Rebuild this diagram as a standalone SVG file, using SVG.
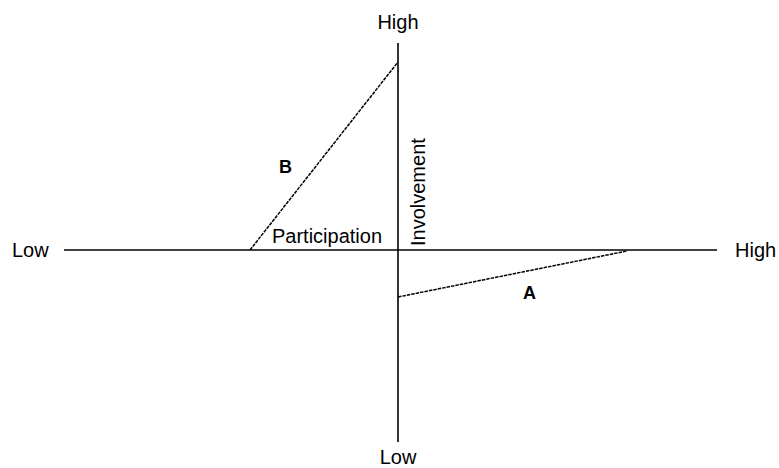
<svg xmlns="http://www.w3.org/2000/svg" width="779" height="468" viewBox="0 0 779 468">
<style>
.ax{stroke:#000;stroke-width:1.6;fill:none}
.ds{stroke:#000;stroke-width:1.5;fill:none;stroke-dasharray:3.5 1}
text{font-family:"Liberation Sans",Arial,sans-serif;font-size:20px;fill:#000}
.b{font-weight:bold;font-size:18px}
</style>
<rect width="779" height="468" fill="#fff"/>
<g id="connectors">
<line class="ax" x1="64" y1="250" x2="717" y2="250"/>
<line class="ax" x1="398" y1="43" x2="398" y2="442"/>
<line class="ds" x1="250" y1="250" x2="398" y2="62"/>
<line class="ds" x1="398" y1="297" x2="627" y2="251"/>
</g>
<g id="labels">
<text x="398" y="29" text-anchor="middle">High</text>
<text x="398" y="464" text-anchor="middle">Low</text>
<text x="12" y="257">Low</text>
<text x="735" y="257">High</text>
<text x="272" y="243" font-size="21.5">Participation</text>
<text transform="translate(425,246) rotate(-90)" font-size="21">Involvement</text>
<text class="b" x="279" y="173">B</text>
<text class="b" x="523" y="299">A</text>
</g>
</svg>
